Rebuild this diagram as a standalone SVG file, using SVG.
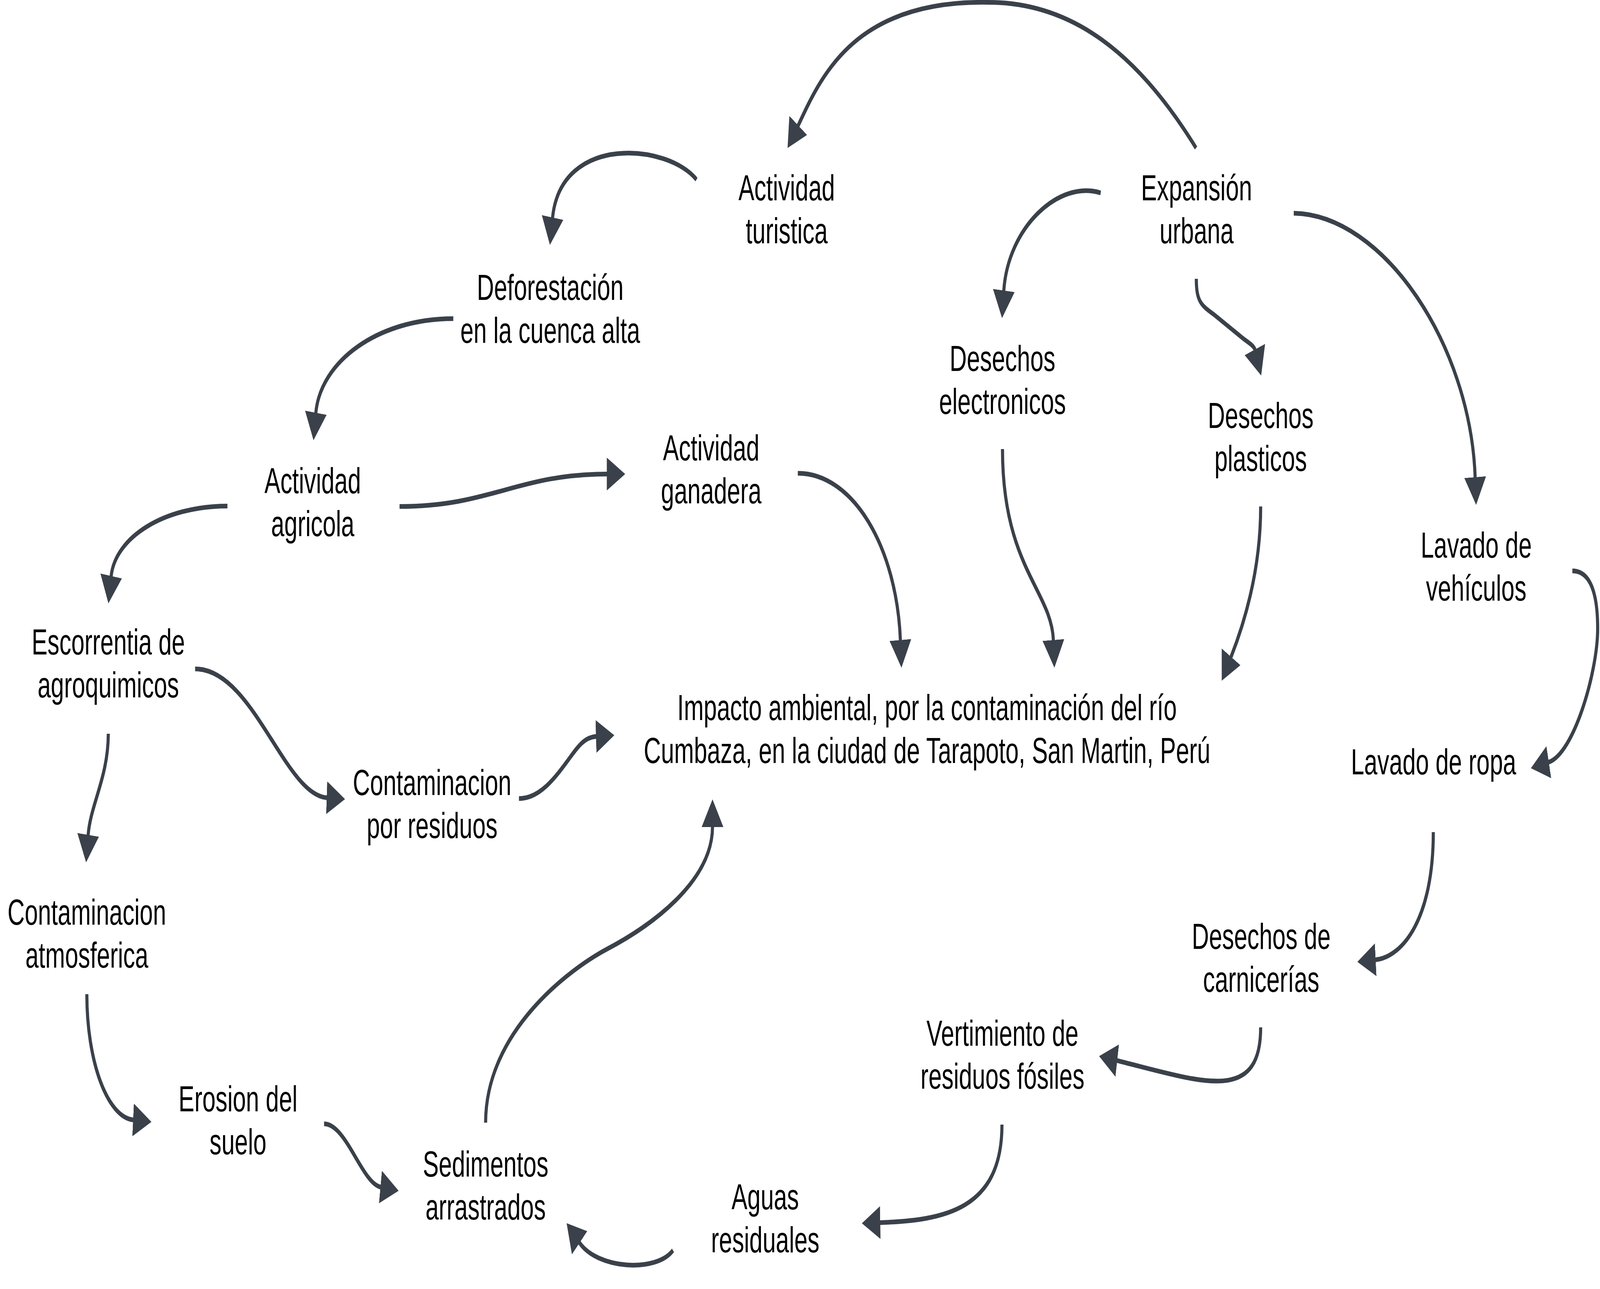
<svg xmlns="http://www.w3.org/2000/svg" width="6191" height="3301" viewBox="0 0 6191 3301" preserveAspectRatio="none" style="width:100%;height:100%;display:block">
<style>
.edge{fill:none;stroke:#3a414a;stroke-width:12;stroke-linecap:butt;marker-end:url(#ah)}
.lbl{font-family:"Liberation Sans",Arial,sans-serif;font-size:92px;fill:#000;text-anchor:middle}
</style>
<defs>
<marker id="ah" markerUnits="userSpaceOnUse" markerWidth="72" markerHeight="86" viewBox="0 0 72 86" refX="1" refY="43" orient="auto">
<path d="M0,1 L71,43 L0,85 Z" fill="#3a414a"/>
</marker>
</defs>
<rect width="6191" height="3301" fill="#fff"/>
<g id="connectors">
<path class="edge" d="M2695,460 C2590,370 2170,340 2138,558"/>
<path class="edge" d="M1754,816 C1461,816 1239,926 1222,1058"/>
<path class="edge" d="M1546,1297 C1900,1297 2000,1214 2349,1214"/>
<path class="edge" d="M880,1296 C632,1296 445,1377 430,1476"/>
<path class="edge" d="M4628,379 C4404,138 4150,6 3823,6 C3300,0 3175,200 3088,322"/>
<path class="edge" d="M4259,494 C4100,460 3900,580 3884,745"/>
<path class="edge" d="M4629,714 C4629,775 4650,782 4700,807 L4805,864 C4831,878 4852,885 4856,896"/>
<path class="edge" d="M5006,546 C5350,550 5690,880 5708,1223"/>
<path class="edge" d="M3087,1212 C3300,1212 3470,1400 3484,1640"/>
<path class="edge" d="M3879,1150 C3879,1450 4069,1513 4076,1640"/>
<path class="edge" d="M4878,1297 C4878,1450 4824,1580 4763,1683"/>
<path class="edge" d="M6084,1462 C6160,1462 6182,1530 6182,1610 C6182,1720 6090,1930 5992,1952"/>
<path class="edge" d="M5546,2131 C5546,2350 5430,2450 5322,2458"/>
<path class="edge" d="M4878,2631 C4878,2830 4650,2770 4322,2716"/>
<path class="edge" d="M3877,2880 C3877,3100 3650,3125 3405,3131"/>
<path class="edge" d="M755,1713 C980,1713 1100,2035 1265,2043"/>
<path class="edge" d="M2008,2045 C2090,2045 2150,1990 2200,1945 C2235,1913 2260,1888 2307,1886"/>
<path class="edge" d="M419,1879 C419,1990 350,2060 341,2139"/>
<path class="edge" d="M336,2546 C336,2720 416,2861 516,2868"/>
<path class="edge" d="M1254,2878 C1340,2878 1400,3030 1473,3040"/>
<path class="edge" d="M1879,2875 C1879,2640 2208,2480 2350,2430 C2511,2374 2757,2260 2757,2117"/>
<path class="edge" d="M2604,3202 C2540,3260 2310,3250 2242,3182"/>
</g>
<g id="n-turistica"><text class="lbl" x="3044" y="513">Actividad</text><text class="lbl" x="3044" y="623">turistica</text></g>
<g id="n-expansion"><text class="lbl" x="4630" y="513">Expansión</text><text class="lbl" x="4630" y="623">urbana</text></g>
<g id="n-deforestacion"><text class="lbl" x="2129" y="768">Deforestación</text><text class="lbl" x="2129" y="878">en la cuenca alta</text></g>
<g id="n-electronicos"><text class="lbl" x="3879" y="950">Desechos</text><text class="lbl" x="3879" y="1060">electronicos</text></g>
<g id="n-plasticos"><text class="lbl" x="4878" y="1096">Desechos</text><text class="lbl" x="4878" y="1206">plasticos</text></g>
<g id="n-agricola"><text class="lbl" x="1210" y="1263">Actividad</text><text class="lbl" x="1210" y="1373">agricola</text></g>
<g id="n-ganadera"><text class="lbl" x="2752" y="1179">Actividad</text><text class="lbl" x="2752" y="1289">ganadera</text></g>
<g id="n-vehiculos"><text class="lbl" x="5712" y="1428">Lavado de</text><text class="lbl" x="5712" y="1538">vehículos</text></g>
<g id="n-escorrentia"><text class="lbl" x="419" y="1676">Escorrentia de</text><text class="lbl" x="419" y="1786">agroquimicos</text></g>
<g id="n-impacto"><text class="lbl" x="3587" y="1844">Impacto ambiental, por la contaminación del río</text><text class="lbl" x="3587" y="1954">Cumbaza, en la ciudad de Tarapoto, San Martin, Perú</text></g>
<g id="n-ropa"><text class="lbl" x="5547" y="1983">Lavado de ropa</text></g>
<g id="n-residuos"><text class="lbl" x="1672" y="2036">Contaminacion</text><text class="lbl" x="1672" y="2146">por residuos</text></g>
<g id="n-atmosferica"><text class="lbl" x="336" y="2368">Contaminacion</text><text class="lbl" x="336" y="2478">atmosferica</text></g>
<g id="n-carnicerias"><text class="lbl" x="4880" y="2430">Desechos de</text><text class="lbl" x="4880" y="2540">carnicerías</text></g>
<g id="n-vertimiento"><text class="lbl" x="3879" y="2678">Vertimiento de</text><text class="lbl" x="3879" y="2788">residuos fósiles</text></g>
<g id="n-erosion"><text class="lbl" x="921" y="2846">Erosion del</text><text class="lbl" x="921" y="2956">suelo</text></g>
<g id="n-sedimentos"><text class="lbl" x="1879" y="3013">Sedimentos</text><text class="lbl" x="1879" y="3123">arrastrados</text></g>
<g id="n-aguas"><text class="lbl" x="2961" y="3097">Aguas</text><text class="lbl" x="2961" y="3207">residuales</text></g>
</svg>
